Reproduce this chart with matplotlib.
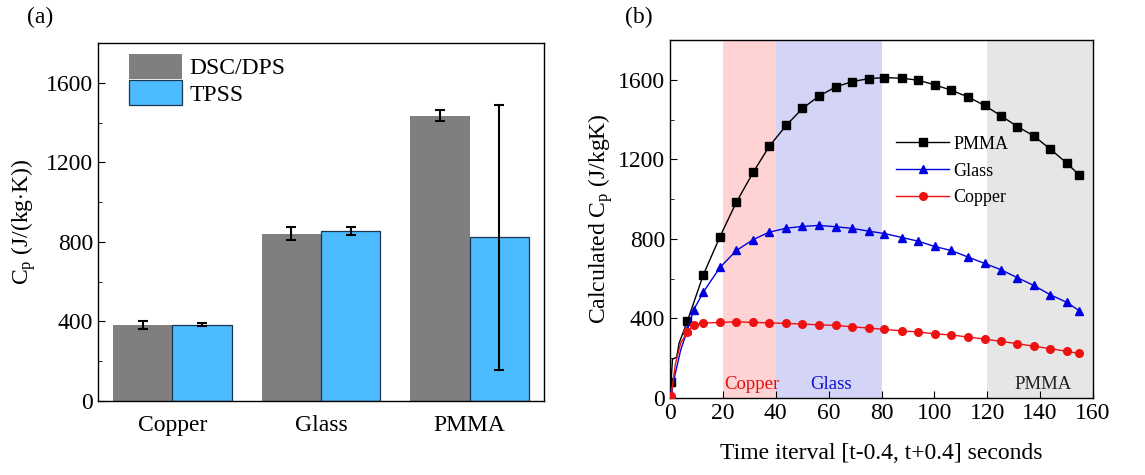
import matplotlib
matplotlib.use("Agg")
import matplotlib.pyplot as plt
import numpy as np
from matplotlib.ticker import MultipleLocator

plt.rcParams['font.family'] = ['Liberation Serif', 'DejaVu Serif']
plt.rcParams['mathtext.fontset'] = 'custom'
plt.rcParams['mathtext.rm'] = 'Liberation Serif'
plt.rcParams['mathtext.it'] = 'Liberation Serif:italic'

# (a) measured specific heat
materials = ['Copper', 'Glass', 'PMMA']
dsc_cp = [382, 842, 1434]
dsc_err = [19, 35, 27]
tpss_cp = [383, 856, 823]
tpss_err = [7, 20, 665]

# (b) calculated Cp vs. time window
t = [0.0, 0.4, 0.9, 2.5, 3.4, 6.5, 12.6, 18.9, 25.1, 31.5, 37.5, 44.0, 50.1, 56.4,
     62.8, 68.9, 75.2, 81.1, 87.8, 93.8, 100.1, 106.3, 112.7, 119.0, 125.2,
     131.4, 137.6, 143.9, 150.1, 154.8]
cp_pmma = [0, 80, 195, 205, 275, 385, 620, 812, 985, 1136, 1265, 1372, 1456, 1519,
           1565, 1591, 1606, 1611, 1608, 1598, 1575, 1548, 1514, 1471, 1419,
           1365, 1318, 1251, 1181, 1121]
t_cg = [0.4, 2.0, 4.0, 6.5, 9.0, 12.6, 18.9, 25.1, 31.5, 37.5, 44.0, 50.1, 56.4,
        62.8, 68.9, 75.2, 81.1, 87.8, 93.8, 100.1, 106.3, 112.7, 119.0, 125.2,
        131.4, 137.6, 143.9, 150.1, 154.8]
cp_glass = [18, 125, 240, 340, 445, 533, 657, 742, 797, 834, 854, 863, 868,
            861, 853, 839, 827, 807, 789, 762, 742, 709, 677, 645,
            605, 566, 519, 481, 439]
cp_copper = [10, 170, 275, 332, 368, 377, 380, 384, 380, 378, 375, 372, 368,
             365, 358, 352, 345, 338, 332, 323, 317, 307, 296, 285,
             273, 261, 248, 235, 224]
regions = [(20, 40, '#ffd3d3'), (40, 80, '#d4d4f7'), (120, 160, '#e6e6e6')]

fig = plt.figure(figsize=(11.45, 4.75), dpi=100)
ax1 = fig.add_axes([0.0856, 0.1558, 0.3895, 0.7537])
ax2 = fig.add_axes([0.5852, 0.162, 0.3694, 0.7537])

fs = 17
x = np.arange(len(materials))
w = 0.4
ekw = dict(ecolor='black', elinewidth=1.5, capsize=3.5, capthick=1.5)
ax1.bar(x - w / 2, dsc_cp, w, yerr=dsc_err, color='#7f7f7f', label='DSC/DPS',
        error_kw=ekw, zorder=2)
ax1.bar(x + w / 2, tpss_cp, w, yerr=tpss_err, color='#4dbbff', edgecolor='#1c3550',
        linewidth=0.9, label='TPSS', error_kw=ekw, zorder=2)
ax1.set_xlim(-0.5, 2.5)
ax1.set_ylim(0, 1800)
ax1.set_xticks(x)
ax1.set_xticklabels(materials)
ax1.yaxis.set_major_locator(MultipleLocator(400))
ax1.yaxis.set_minor_locator(MultipleLocator(200))
ax1.tick_params(axis='x', length=0, pad=10, labelsize=fs)
ax1.tick_params(axis='y', which='both', direction='in', labelsize=fs)
ax1.tick_params(axis='y', which='major', length=5)
ax1.tick_params(axis='y', which='minor', length=3)
ax1.set_ylabel(r'C$_\mathregular{p}$ (J/(kg$\cdot$K))', fontsize=fs, labelpad=6)
ax1.legend(loc='upper left', bbox_to_anchor=(0.07, 0.97), frameon=False,
           fontsize=fs, handlelength=2.25, handleheight=1.25, labelspacing=0.05,
           handletextpad=0.3, borderpad=0, borderaxespad=0)

for x0, x1, c in regions:
    ax2.axvspan(x0, x1, color=c, lw=0, zorder=0)
ax2.plot(t, cp_pmma, color='black', lw=1, marker='s', ms=5.5,
         markevery=[1] + list(range(5, len(t))), label='PMMA', zorder=3)
ax2.plot(t_cg, cp_glass, color='#0000e0', lw=1, marker='^', ms=5.5,
         markevery=[0] + list(range(3, len(t_cg))), label='Glass', zorder=3)
ax2.plot(t_cg, cp_copper, color='#ee1111', lw=1, marker='o', ms=5.5,
         markevery=[0] + list(range(3, len(t_cg))), label='Copper', zorder=3)
ax2.text(20.5, 45, 'Copper', color='#e01010', fontsize=13.5, ha='left', va='baseline')
ax2.text(61, 45, 'Glass', color='#1010d0', fontsize=13.5, ha='center', va='baseline')
ax2.text(141, 45, 'PMMA', color='#222222', fontsize=13.5, ha='center', va='baseline')
ax2.set_xlim(0, 160)
ax2.set_ylim(0, 1800)
ax2.xaxis.set_major_locator(MultipleLocator(20))
ax2.yaxis.set_major_locator(MultipleLocator(400))
ax2.yaxis.set_minor_locator(MultipleLocator(200))
ax2.tick_params(which='both', direction='in', labelsize=fs)
ax2.tick_params(which='major', length=5)
ax2.tick_params(which='minor', length=3)
ax2.set_xlabel('Time iterval [t-0.4, t+0.4] seconds', fontsize=fs, labelpad=14)
ax2.set_ylabel(r'Calculated C$_\mathregular{p}$ (J/kgK)', fontsize=fs, labelpad=2)
ax2.legend(loc='upper left', bbox_to_anchor=(0.535, 0.733), frameon=False,
           fontsize=13, handlelength=2.9, labelspacing=0.55, handletextpad=0.25,
           borderpad=0, borderaxespad=0)

for ax in (ax1, ax2):
    for s in ax.spines.values():
        s.set_linewidth(1.0)

# panel tags
fig.text(0.0236, 0.985, '(a)', fontsize=fs, ha='left', va='top')
fig.text(0.546, 0.985, '(b)', fontsize=fs, ha='left', va='top')

fig.savefig('out.png', dpi=100)
